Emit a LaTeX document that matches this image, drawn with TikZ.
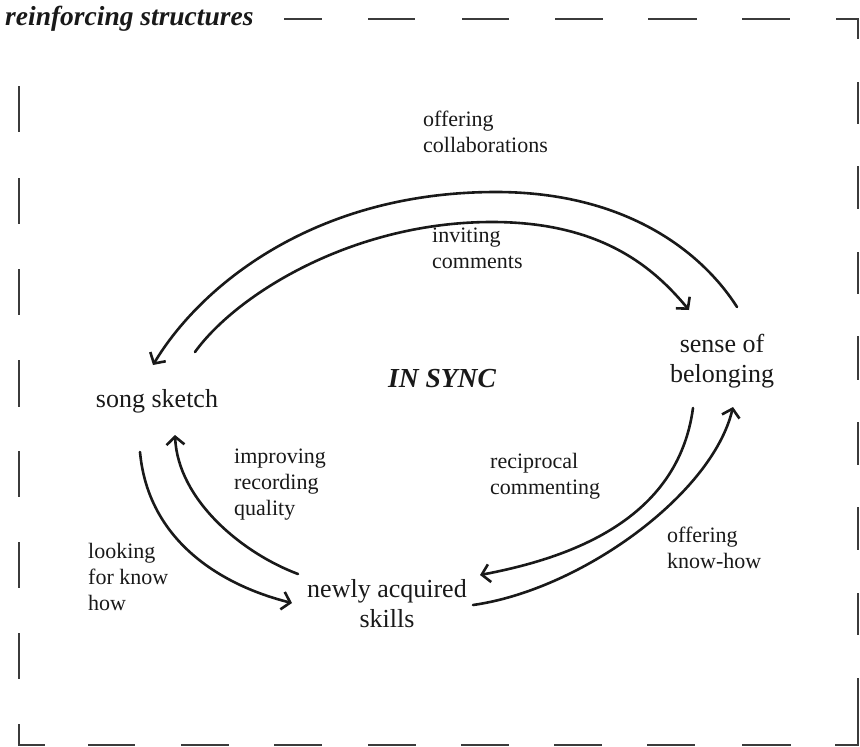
\documentclass[tikz,border=0pt]{standalone}
\usepackage{fontspec}
\setmainfont{Liberation Serif}
\usetikzlibrary{arrows.meta}
\definecolor{ink}{RGB}{25,25,25}
\begin{document}
\begin{tikzpicture}[x=1pt,y=-1pt,
  conn/.style={ink, line width=2.6pt, line cap=round, -{Straight Barb[length=8pt,width=18pt,line width=2.6pt]}},
  bord/.style={ink!85, line width=2.2pt},
  nodelbl/.style={text=ink, font=\fontsize{26}{30}\selectfont, align=center, inner sep=0pt, anchor=base},
  edgelbl/.style={text=ink, font=\fontsize{22}{26}\selectfont, align=left, inner sep=0pt, anchor=base west},
  titlelbl/.style={text=ink, font=\fontsize{27.5}{30}\selectfont\bfseries\itshape, inner sep=0pt, anchor=base west},
]
\useasboundingbox (0,0) rectangle (860,747);

% dashed frame
\draw[bord] (284,19)--(322,19) (368,19)--(415,19) (462,19)--(509,19) (555,19)--(603,19)
  (648,19)--(697,19) (742,19)--(790,19) (836,19)--(858,19)--(858,39);
\draw[bord] (858,82)--(858,124) (858,166)--(858,209) (858,252)--(858,294) (858,336)--(858,380)
  (858,422)--(858,465) (858,507)--(858,550) (858,593)--(858,635) (858,678)--(858,745)--(835,745);
\draw[bord] (19,86)--(19,132) (19,178)--(19,224) (19,269)--(19,315) (19,360)--(19,407)
  (19,451)--(19,497) (19,542)--(19,588) (19,633)--(19,679) (19,724)--(19,745)--(45,745);
\draw[bord] (88,745)--(135,745) (181,745)--(229,745) (274,745)--(322,745) (368,745)--(416,745)
  (461,745)--(509,745) (554,745)--(602,745) (647,745)--(695,745) (742,745)--(791,745);

% texts (multi-line nodes: base = baseline of last line)
\node[titlelbl] (title) at (5,25) {reinforcing structures};
\node[titlelbl] (sync) at (388,387) {IN SYNC};

\node[nodelbl] (ss) at (157,407) {song sketch};
\node[nodelbl] (sb) at (722,382) {sense of\\belonging};
\node[nodelbl] (nas) at (387,627) {newly acquired\\skills};

\node[edgelbl] (l1) at (423,152) {offering\\collaborations};
\node[edgelbl] (l2) at (432,268) {inviting\\comments};
\node[edgelbl] (l3) at (234,515) {improving\\recording\\quality};
\node[edgelbl] (l4) at (88,610) {looking\\for know\\how};
\node[edgelbl] (l5) at (490,494) {reciprocal\\commenting};
\node[edgelbl] (l6) at (667,568) {offering\\know-how};

% connector ends
\coordinate (sbA) at (737,307);
\coordinate (ssA) at (153,365);
\coordinate (ssB) at (195,352);
\coordinate (sbB) at (689,310);
\coordinate (nasC) at (298,574);
\coordinate (ssC) at (175,435);
\coordinate (ssD) at (140,452);
\coordinate (nasD) at (292,603);
\coordinate (sbE) at (693,408);
\coordinate (nasE) at (480,575);
\coordinate (nasF) at (473,605);
\coordinate (sbF) at (733,407);

% connectors
\draw[conn] (sbA) .. controls (702,252) and (626,192) .. (496,192)
  .. controls (312,192) and (199,288) .. (ssA);
\draw[conn] (ssB) .. controls (236,295) and (352,222) .. (492,222)
  .. controls (602,222) and (654,268) .. (sbB);
\draw[conn] (nasC) .. controls (242,553) and (178,500) .. (ssC);
\draw[conn] (ssD) .. controls (148,540) and (220,585) .. (nasD);
\draw[conn] (sbE) .. controls (678,520) and (570,558) .. (nasE);
\draw[conn] (nasF) .. controls (580,590) and (712,495) .. (sbF);
\end{tikzpicture}
\end{document}
